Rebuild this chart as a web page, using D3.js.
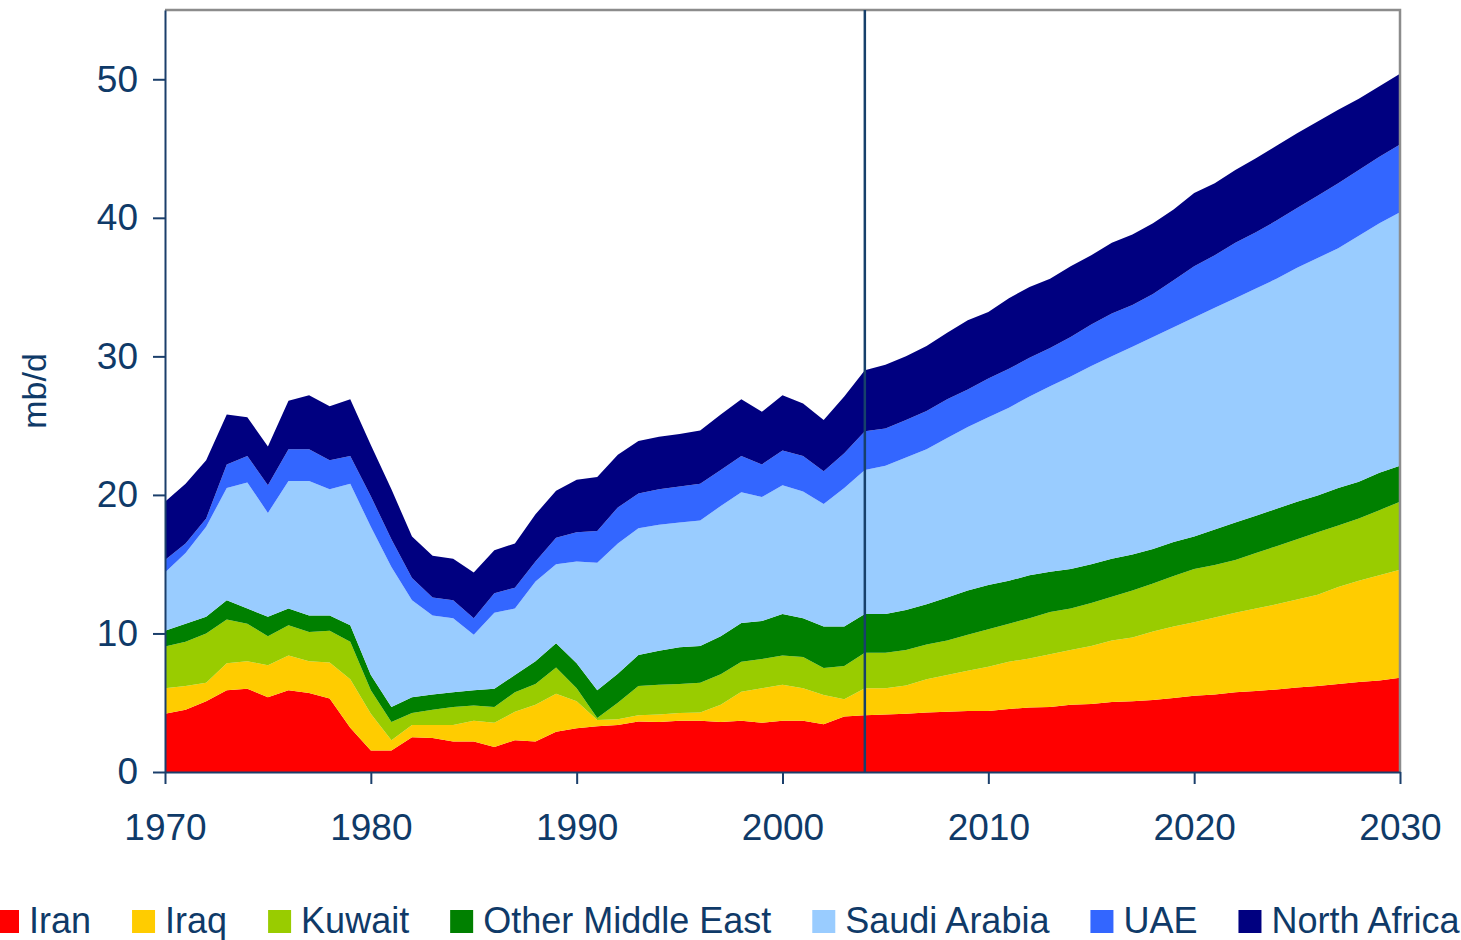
<!DOCTYPE html>
<html>
<head>
<meta charset="utf-8">
<title>Oil production</title>
<style>
body { margin: 0; background: #fff; }
svg { display: block; font-family: "Liberation Sans", Arial, sans-serif; }
.axis path, .axis line { stroke: #1b3f6b; stroke-width: 2px; }
.axis text { fill: #0f3a68; font-size: 37px; font-family: "Liberation Sans", Arial, sans-serif; }
</style>
<script src="https://cdn.jsdelivr.net/npm/d3@7"></script>
</head>
<body>
<svg width="1461" height="940"></svg>
<script>
// mb/d per year, 1970-2030
var years = d3.range(1970, 2031);
var iran = [4.2,4.5,5.1,5.9,6.0,5.4,5.9,5.7,5.3,3.2, 1.55,1.55,2.5,2.45,2.2,2.2,1.8,2.3,2.2,2.9,
  3.15,3.3,3.4,3.65,3.6,3.7,3.7,3.6,3.7,3.55, 3.7,3.7,3.45,4.0,4.1,4.15,4.2,4.3,4.35,4.4,
  4.4,4.55,4.65,4.7,4.85,4.9,5.05,5.1,5.2,5.35, 5.5,5.6,5.75,5.85,5.95,6.1,6.2,6.35,6.5,6.6, 6.8];
var iraq = [1.85,1.7,1.35,1.95,2.0,2.3,2.5,2.3,2.6,3.5, 2.65,0.75,0.9,0.95,1.2,1.5,1.75,2.05,2.65,2.75,
  1.95,0.45,0.4,0.45,0.55,0.55,0.6,1.25,2.1,2.5, 2.6,2.35,2.1,1.25,1.95,1.9,2.05,2.4,2.65,2.9,
  3.2,3.4,3.55,3.8,3.95,4.2,4.45,4.6,4.95,5.15, 5.3,5.55,5.75,5.95,6.15,6.35,6.6,7.0,7.3,7.6, 7.8];
var kuwait = [3.0,3.2,3.55,3.15,2.7,2.1,2.2,2.1,2.3,2.7, 1.7,1.3,0.85,1.1,1.3,1.1,1.15,1.4,1.5,1.9,
  0.95,0.15,1.2,2.1,2.15,2.1,2.15,2.2,2.15,2.1, 2.1,2.25,1.95,2.4,2.55,2.55,2.55,2.5,2.5,2.6,
  2.7,2.75,2.9,3.05,3.0,3.1,3.15,3.4,3.45,3.65, 3.85,3.8,3.8,4.0,4.2,4.35,4.5,4.45,4.5,4.7, 4.9];
var otherME = [1.15,1.3,1.2,1.4,1.1,1.4,1.2,1.2,1.1,1.2, 1.1,1.1,1.15,1.1,1.05,1.1,1.3,1.25,1.65,1.75,
  1.8,2.0,2.1,2.25,2.45,2.65,2.65,2.75,2.8,2.75, 3.0,2.8,3.0,2.85,2.8,2.8,2.9,2.9,3.1,3.2,
  3.2,3.1,3.1,2.9,2.85,2.8,2.75,2.6,2.5,2.45, 2.35,2.55,2.7,2.7,2.7,2.7,2.65,2.7,2.65,2.7, 2.6];
var saudi = [4.2,5.1,6.5,8.1,9.1,7.5,9.2,9.7,9.1,10.2, 10.7,10.1,7.0,5.7,5.35,4.0,5.5,4.8,5.75,5.7,
  7.35,9.2,9.4,9.15,9.1,9.0,9.05,9.4,9.45,8.95, 9.3,9.15,8.85,10.0,10.4,10.7,11.0,11.2,11.5,11.8,
  12.1,12.5,12.9,13.4,13.9,14.3,14.6,15.0,15.3,15.5, 15.8,16.0,16.2,16.4,16.6,16.9,17.15,17.3,17.75,18.0, 18.3];
var uae = [0.9,0.7,0.6,1.7,1.9,2.0,2.3,2.3,2.1,2.0, 2.2,2.0,1.6,1.3,1.3,1.2,1.4,1.5,1.45,1.9,
  2.1,2.3,2.6,2.5,2.55,2.6,2.65,2.6,2.6,2.35, 2.5,2.55,2.35,2.5,2.8,2.7,2.7,2.75,2.8,2.7,
  2.8,2.8,2.8,2.75,2.85,3.0,3.1,3.0,3.1,3.4, 3.7,3.8,4.0,4.05,4.2,4.3,4.5,4.7,4.75,4.8, 4.9];
var northAfrica = [4.2,4.3,4.2,3.6,2.8,2.8,3.5,3.9,3.9,4.1, 3.7,3.6,3.0,3.0,3.0,3.3,3.1,3.2,3.4,3.4,
  3.8,3.9,3.8,3.8,3.8,3.8,3.85,4.0,4.1,3.8, 4.0,3.8,3.7,4.1,4.4,4.6,4.6,4.7,4.8,5.0,
  4.8,5.1,5.1,5.0,5.1,5.0,5.1,5.1,5.1,5.1, 5.3,5.2,5.25,5.35,5.4,5.4,5.35,5.3,5.15,5.1, 5.1];

var names = ["Iran", "Iraq", "Kuwait", "Other Middle East", "Saudi Arabia", "UAE", "North Africa"];
var seriesValues = [iran, iraq, kuwait, otherME, saudi, uae, northAfrica];
var colors = ["#ff0000", "#ffcc00", "#99cc00", "#008000", "#99ccff", "#3366ff", "#000080"];
var xTicks = [1970, 1980, 1990, 2000, 2010, 2020, 2030];
var yTicks = [0, 10, 20, 30, 40, 50];
var splitYear = 2004;

var table = years.map(function(yr, i) {
  var row = {year: yr};
  names.forEach(function(n, j) { row[n] = seriesValues[j][i]; });
  return row;
});

var svg = d3.select("svg"),
    margin = {top: 10, right: 61, bottom: 168, left: 165},
    width = svg.attr("width") - margin.left - margin.right,
    height = svg.attr("height") - margin.top - margin.bottom,
    g = svg.append("g").attr("transform", "translate(" + margin.left + "," + margin.top + ")");

var x = d3.scaleLinear().domain([1970, 2030]).range([0, width]),
    y = d3.scaleLinear().domain([0, 55]).range([height, 0]),
    z = d3.scaleOrdinal().domain(names).range(colors);

var stacked = d3.stack().keys(names)(table);

var area = d3.area()
    .x(function(d) { return x(d.data.year); })
    .y0(function(d) { return y(d[0]); })
    .y1(function(d) { return y(d[1]); });

g.selectAll(".layer")
  .data(stacked)
  .enter().append("path")
    .attr("class", "layer")
    .attr("d", area)
    .attr("fill", function(d) { return z(d.key); });

// grey frame top + right
g.append("path")
    .attr("d", "M0,0H" + width + "V" + height)
    .attr("fill", "none")
    .attr("stroke", "#8c8c8c")
    .attr("stroke-width", 2.5);

// history / projection divider
g.append("line")
    .attr("x1", x(splitYear)).attr("x2", x(splitYear))
    .attr("y1", 0).attr("y2", height)
    .attr("stroke", "#17406b")
    .attr("stroke-width", 2.5);

g.append("g")
    .attr("class", "axis axis--x")
    .attr("transform", "translate(0," + height + ")")
    .call(d3.axisBottom(x).tickValues(xTicks).tickFormat(d3.format("d"))
      .tickSize(12).tickSizeOuter(0).tickPadding(30));

g.append("g")
    .attr("class", "axis axis--y")
    .call(d3.axisLeft(y).tickValues(yTicks).tickSize(12).tickSizeOuter(0).tickPadding(15));

svg.append("text")
    .attr("transform", "translate(46," + (margin.top + y(27.5)) + ") rotate(-90)")
    .attr("text-anchor", "middle")
    .attr("fill", "#0f3a68")
    .style("font-size", "34px")
    .text("mb/d");

// legend
var legend = svg.append("g").attr("transform", "translate(-4,933)");
var lx = 0;
names.forEach(function(n) {
  var item = legend.append("g").attr("transform", "translate(" + lx + ",0)");
  item.append("rect")
      .attr("y", -23).attr("width", 23).attr("height", 23)
      .attr("fill", z(n));
  var t = item.append("text")
      .attr("x", 33)
      .attr("fill", "#0f3a68")
      .style("font-size", "36px")
      .text(n);
  lx += 33 + t.node().getComputedTextLength() + 41;
});
</script>
</body>
</html>
